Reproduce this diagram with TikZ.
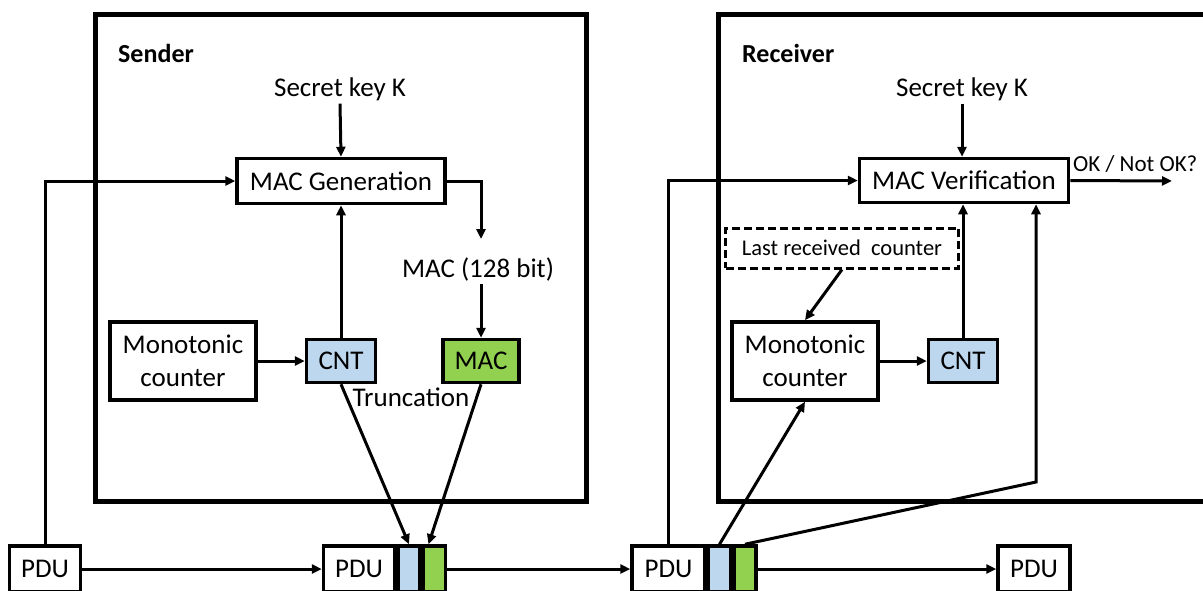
\documentclass[tikz,border=0pt]{standalone}
\usepackage{fontspec}
\setmainfont{Carlito}
\usetikzlibrary{arrows.meta}
\definecolor{cntblue}{HTML}{BDD7EE}
\definecolor{macgreen}{HTML}{92D050}
\begin{document}
\begin{tikzpicture}[x=1pt,y=-1pt,
  arr/.style={line width=3pt,-{Triangle[length=10pt,width=9pt]}},
  frame/.style={line width=5pt},
  blk/.style={draw,line width=3.5pt,inner sep=0pt,align=center,
              font=\fontsize{27}{33}\selectfont},
  cell/.style={draw,line width=3.5pt,minimum width=22pt,minimum height=46pt,inner sep=0pt},
  lbl/.style={font=\fontsize{27}{33}\selectfont,inner sep=0pt},
  title/.style={font=\bfseries\fontsize{26}{30}\selectfont,inner sep=0pt,anchor=base west}
]
\useasboundingbox (0,0) rectangle (1203,590);
\clip (0,0) rectangle (1203,590);

% enclosing frames
\draw[frame] (95,14) rectangle (586,501);
\draw[frame] (1220,14) -- (718,14) -- (718,501) -- (1220,501);
\node[title] (sendlbl) at (118,62) {Sender};
\node[title] (recvlbl) at (742,62) {Receiver};

% ---- sender side ----
\node[lbl,anchor=base,inner sep=3pt] (key1) at (340,96) {Secret key K};
\node[blk,minimum width=208pt,minimum height=45pt] (macgen) at (341,181) {MAC Generation};
\node[lbl,anchor=base] (mac128) at (478,277) {MAC (128 bit)};
\coordinate (m1) at (481,239);
\coordinate (m2) at (481,284);
\node[blk,minimum width=146pt,minimum height=78pt] (mono1) at (183,361) {Monotonic\\counter};
\node[blk,fill=cntblue,minimum width=69pt,minimum height=43pt] (cnt1) at (341,361) {CNT};
\node[blk,fill=macgreen,minimum width=76pt,minimum height=43pt] (mac1) at (481,361) {MAC};

% ---- PDUs ----
\node[blk,minimum width=71pt,minimum height=46pt] (pdu1) at (45,569) {PDU};
\node[blk,minimum width=71pt,minimum height=46pt] (pdu2) at (359,569) {PDU};
\node[cell,fill=cntblue,anchor=west] (b1) at (pdu2.east) {};
\node[cell,fill=macgreen,anchor=west] (g1) at (b1.east) {};
\node[blk,minimum width=73pt,minimum height=46pt] (pdu3) at (668.5,569) {PDU};
\node[cell,fill=cntblue,anchor=west] (b2) at (pdu3.east) {};
\node[cell,fill=macgreen,anchor=west] (g2) at (b2.east) {};
\node[blk,minimum width=72pt,minimum height=46pt] (pdu4) at (1034,569) {PDU};

% sender connectors
\draw[arr] (key1.south) -- (macgen.north);
\draw[arr] (macgen.east) -| (m1);
\draw[arr] (m2) -- (mac1.north);
\draw[arr] (mono1.east) -- (cnt1.west);
\draw[arr] (cnt1.north) -- (macgen.south);
\draw[arr] (pdu1.north) |- (macgen.west);
\draw[arr] (pdu1.east) -- (pdu2.west);
\draw[arr] (cnt1.south) -- (b1.north);
\draw[arr] (mac1.south) -- ([xshift=-6pt]g1.north);
\node[lbl] (trunc) at (411,397) {Truncation};
\draw[arr] (g1.east) -- (pdu3.west);
\draw[arr] (g2.east) -- (pdu4.west);

% ---- receiver side ----
\node[lbl,anchor=base,inner sep=3pt] (key2) at (962,96) {Secret key K};
\node[blk,minimum width=209pt,minimum height=44pt] (macver) at (964,180.5) {MAC Verification};
\node[anchor=base west,font=\fontsize{23}{28}\selectfont,inner sep=0pt] (ok) at (1073,171) {OK / Not OK?};
\coordinate (okend) at (1172,181);
\node[draw,dashed,dash pattern=on 8pt off 4pt,line width=3pt,minimum width=233pt,
      minimum height=40pt,inner sep=0pt,font=\fontsize{22.5}{27}\selectfont]
      (lastc) at (842,248) {Last received~ counter};
\node[blk,minimum width=146pt,minimum height=78pt] (mono2) at (805,361) {Monotonic\\counter};
\node[blk,fill=cntblue,minimum width=69pt,minimum height=43pt] (cnt2) at (963,361) {CNT};
\coordinate (bend) at (1036,482);

% receiver connectors
\draw[arr] (key2.south) -- (key2.south |- macver.north);
\draw[arr] (macver.east) -- (okend);
\draw[arr] (lastc.south) -- (mono2.north);
\draw[arr] (mono2.east) -- (cnt2.west);
\draw[arr] (cnt2.north) -- (cnt2.north |- macver.south);
\draw[arr] (pdu3.north) |- (macver.west);
\draw[arr] (b2.north) -- (mono2.south);
\draw[arr] (g2.north) -- (bend) -- (bend |- macver.south);
\end{tikzpicture}
\end{document}
